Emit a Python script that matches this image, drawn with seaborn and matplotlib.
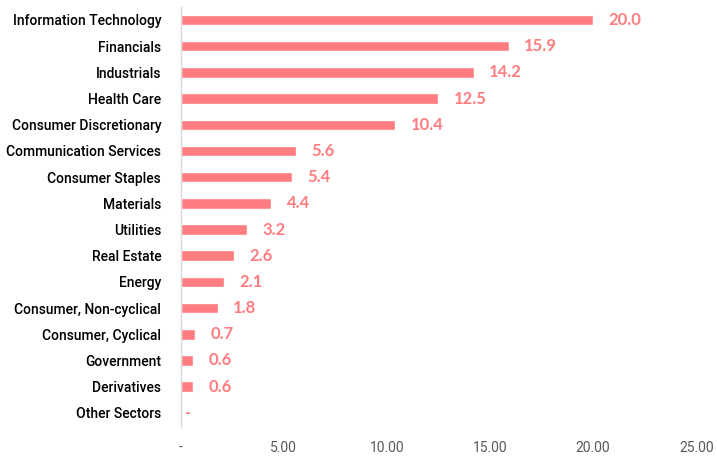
import matplotlib
matplotlib.use("Agg")
import matplotlib.pyplot as plt
import numpy as np
import pandas as pd
import seaborn as sns

sectors = ["Information Technology", "Financials", "Industrials", "Health Care",
           "Consumer Discretionary", "Communication Services", "Consumer Staples",
           "Materials", "Utilities", "Real Estate", "Energy",
           "Consumer, Non-cyclical", "Consumer, Cyclical", "Government",
           "Derivatives", "Other Sectors"]
weights = [20.0, 15.9, 14.2, 12.5, 10.4, 5.6, 5.4, 4.4, 3.2, 2.6, 2.1, 1.8,
           0.7, 0.6, 0.6, 0.0]
xticks = [0, 5, 10, 15, 20, 25]
xtick_labels = ["-", "5.00", "10.00", "15.00", "20.00", "25.00"]

bar_color = "#FF7C80"

sns.set_theme(style="white")
plt.rcParams["font.family"] = ["Roboto", "DejaVu Sans"]

df = pd.DataFrame({"sector": sectors, "weight": weights})

fig = plt.figure(figsize=(7.17, 4.59), dpi=100)
ax = fig.add_axes([0.252, 0.072, 0.719, 0.913])

sns.barplot(data=df, x="weight", y="sector", orient="h", color=bar_color,
            saturation=1, width=0.4, ax=ax)

# value labels, "-" for zero like the Excel source
labels = ["-" if w == 0 else "{:.1f}".format(w) for w in weights]
texts = ax.bar_label(ax.containers[0], labels=labels, padding=11, color=bar_color,
                     fontsize=12, fontweight="bold", family=["Lato", "DejaVu Sans"])
for t, w in zip(texts, weights):
    if w == 0:
        t.xyann = (3, 0)

ax.set_xlim(0, 25)
ax.set_xticks(xticks)
ax.set_xticklabels(xtick_labels, color="#595959", fontsize=10)
ax.tick_params(axis="x", length=0, pad=11)
ax.tick_params(axis="y", length=0, pad=14)
for lbl in ax.get_yticklabels():
    lbl.set_fontsize(10)
    lbl.set_fontweight("medium")
    lbl.set_color("black")

ax.set_xlabel("")
ax.set_ylabel("")
for s in ["top", "right", "bottom"]:
    ax.spines[s].set_visible(False)
ax.spines["left"].set_color("#D9D9D9")
ax.spines["left"].set_linewidth(1)

fig.savefig("out.png", dpi=100)
